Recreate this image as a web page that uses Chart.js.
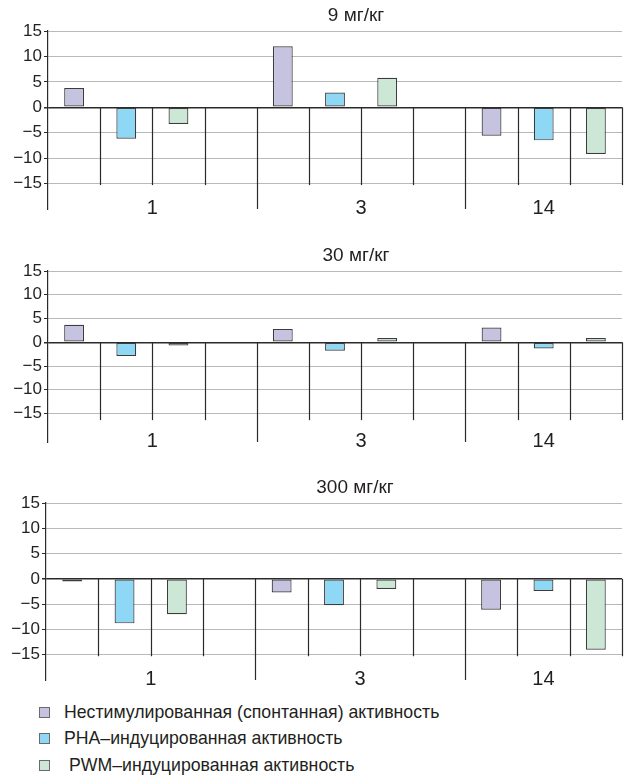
<!DOCTYPE html>
<html>
<head>
<meta charset="utf-8">
<script src="https://cdn.jsdelivr.net/npm/chart.js@4.4.1/dist/chart.umd.min.js"></script>
<style>
  html, body { margin: 0; padding: 0; background: #ffffff; }
  body { width: 624px; height: 779px; position: relative; overflow: hidden; font-family: "Liberation Sans", Arial, sans-serif; color: #231f20; }
  canvas { position: absolute; left: 0; }
  .lg { position: absolute; left: 39px; height: 20px; display: flex; align-items: center; font-size: 17.7px; white-space: nowrap; }
  .lg .box { width: 9px; height: 9px; border: 1px solid #6a6a6a; margin-right: 14px; flex: none; }
</style>
</head>
<body>
<canvas id="c9" width="624" height="225" style="top:0px"></canvas>
<canvas id="c30" width="624" height="225" style="top:240px"></canvas>
<canvas id="c300" width="624" height="225" style="top:470px"></canvas>
<div id="legend"></div>
<script>
// ---- data ----
const days = ['1', '3', '14'];
const doses = ['9 мг/кг', '30 мг/кг', '300 мг/кг'];
const seriesNames = [
  'Нестимулированная (спонтанная) активность',
  'PHA\u2013индуцированная активность',
  'PWM\u2013индуцированная активность'
];
const spont9 = [3.8, 12.0, -5.6];
const pha9 = [-6.2, 2.9, -6.5];
const pwm9 = [-3.3, 5.8, -9.2];
const spont30 = [3.7, 2.8, 3.1];
const pha30 = [-2.9, -1.8, -1.3];
const pwm30 = [-0.7, 0.9, 0.9];
const spont300 = [-0.5, -2.7, -6.1];
const pha300 = [-8.8, -5.2, -2.4];
const pwm300 = [-7.0, -2.0, -14.0];
const yTicks = [15, 10, 5, 0, -5, -10, -15];

// ---- structure / style ----
const slotCounts = [4, 4, 3];
const fills = ['#c6c3e1', '#8ed8f5', '#cce7d5'];
const ink = '#231f20';
const FONT = '"Liberation Sans", Arial, sans-serif';

const decor = {
  id: 'decor',
  afterDatasetsDraw(chart, args, opts) {
    const { ctx, chartArea: a, scales: { x, y } } = chart;
    const n = chart.data.labels.length;
    const step = x.getPixelForValue(1) - x.getPixelForValue(0);
    const bx = i => x.getPixelForValue(i) - step / 2;
    const y0 = y.getPixelForValue(0);
    const yShort = y.getPixelForValue(opts.sepEnd);
    const groupEnds = [];
    let acc = 0;
    slotCounts.forEach(c => { acc += c; groupEnds.push(acc); });
    ctx.save();
    ctx.strokeStyle = '#2a2a2a';
    ctx.lineWidth = 1.2;
    for (let i = 1; i <= n; i++) {
      const px = Math.round(bx(i)) + 0.5;
      const long = groupEnds.includes(i) && i < n;
      ctx.beginPath();
      ctx.moveTo(px, y0);
      ctx.lineTo(px, long ? a.bottom : yShort);
      ctx.stroke();
    }
    ctx.fillStyle = ink;
    ctx.textAlign = 'center';
    ctx.textBaseline = 'middle';
    ctx.font = '20px ' + FONT;
    let start = 0;
    days.forEach((d, g) => {
      const cx = bx(start + slotCounts[g] / 2);
      ctx.fillText(d, cx, a.bottom - 1);
      start += slotCounts[g];
    });
    ctx.font = '19px ' + FONT;
    ctx.fillText(opts.title, (a.left + a.right) / 2 + 21, a.top - 15);
    ctx.restore();
  }
};

function makeChart(id, spont, pha, pwm, title, yMin, sepEnd, axisW, pad) {
  const vals = [spont, pha, pwm];
  const labels = [];
  const sets = [[], [], []];
  days.forEach((d, g) => {
    for (let s = 0; s < slotCounts[g]; s++) {
      labels.push(d + '/' + s);
      for (let k = 0; k < 3; k++) sets[k].push(s === k ? vals[k][g] : null);
    }
  });
  return new Chart(document.getElementById(id), {
    type: 'bar',
    data: {
      labels,
      datasets: sets.map((data, k) => ({
        label: seriesNames[k],
        data,
        backgroundColor: fills[k],
        borderColor: '#3c3c3c',
        borderWidth: 1.2,
        borderSkipped: false,
        grouped: false,
        barPercentage: 0.38,
        categoryPercentage: 1
      }))
    },
    options: {
      responsive: false,
      animation: false,
      events: [],
      layout: { padding: pad },
      plugins: {
        legend: { display: false },
        title: { display: false },
        tooltip: { enabled: false },
        decor: { title, sepEnd }
      },
      scales: {
        x: { type: 'category', display: false, offset: true },
        y: {
          min: yMin,
          max: 15,
          afterBuildTicks: s => { s.ticks = yTicks.map(v => ({ value: v })); },
          afterFit: s => { s.width = axisW; },
          border: { display: true, color: '#2a2a2a', width: 1.2 },
          grid: {
            color: c => (c.tick && c.tick.value === 0 ? '#2a2a2a' : '#b9b9b9'),
            lineWidth: c => (c.tick && c.tick.value === 0 ? 1.5 : 1),
            tickColor: '#2a2a2a',
            tickLength: 4,
            drawTicks: true
          },
          ticks: {
            padding: 2,
            color: ink,
            font: { family: FONT, size: 17 },
            callback: v => (v < 0 ? '\u2212' + Math.abs(v) : String(v))
          }
        }
      }
    },
    plugins: [decor]
  });
}

makeChart('c9', spont9, pha9, pwm9, doses[0], -20, -15.3, 48, { top: 31, bottom: 16, right: 2, left: 0 });
makeChart('c30', spont30, pha30, pwm30, doses[1], -21, -16.4, 48, { top: 31, bottom: 23, right: 2, left: 0 });
makeChart('c300', spont300, pha300, pwm300, doses[2], -20, -15.3, 46, { top: 33, bottom: 15, right: 2, left: 0 });

// legend
const lg = document.getElementById('legend');
const rowTops = [702, 728, 755];
seriesNames.forEach((name, k) => {
  const row = document.createElement('div');
  row.className = 'lg';
  row.style.top = rowTops[k] + 'px';
  const box = document.createElement('span');
  box.className = 'box';
  box.style.background = fills[k];
  const txt = document.createElement('span');
  txt.textContent = name;
  if (k === 2) txt.style.paddingLeft = '5px';
  row.appendChild(box);
  row.appendChild(txt);
  lg.appendChild(row);
});
</script>
</body>
</html>
